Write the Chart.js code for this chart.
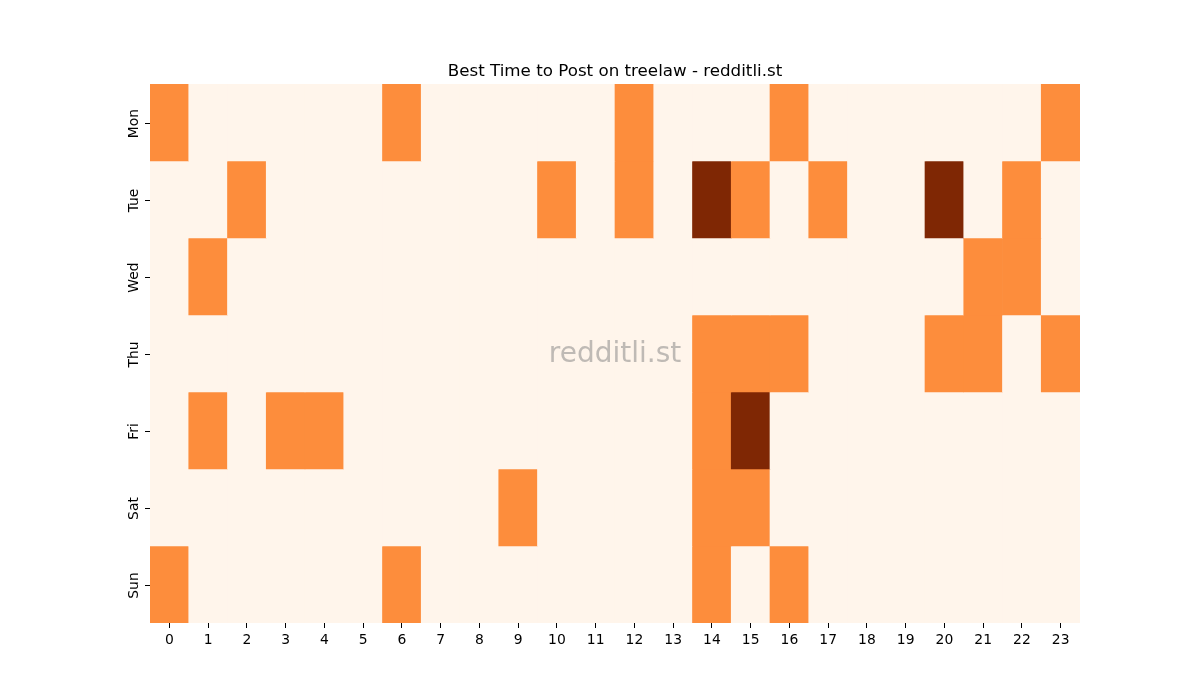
<!DOCTYPE html>
<html lang="en">
<head>
    <meta charset="UTF-8">
    <title>Best Time to Post on treelaw</title>
    <script src="https://cdn.jsdelivr.net/npm/chart.js"></script>
    <style>
        body { margin: 0; background: #ffffff; }
        #wrap { width: 1200px; height: 700px; }
    </style>
</head>
<body>
    <div id="wrap"><canvas id="heat"></canvas></div>
    <script>
        // hours along the bottom, days down the side
        const hours = ['0','1','2','3','4','5','6','7','8','9','10','11','12','13','14','15','16','17','18','19','20','21','22','23'];
        const days = ['Mon', 'Tue', 'Wed', 'Thu', 'Fri', 'Sat', 'Sun'];

        // one row per day, 24 hourly values (0 / 1 / 2)
        const mon = [1,0,0,0,0,0,1,0,0,0,0,0,1,0,0,0,1,0,0,0,0,0,0,1];
        const tue = [0,0,1,0,0,0,0,0,0,0,1,0,1,0,2,1,0,1,0,0,2,0,1,0];
        const wed = [0,1,0,0,0,0,0,0,0,0,0,0,0,0,0,0,0,0,0,0,0,1,1,0];
        const thu = [0,0,0,0,0,0,0,0,0,0,0,0,0,0,1,1,1,0,0,0,1,1,0,1];
        const fri = [0,1,0,1,1,0,0,0,0,0,0,0,0,0,1,2,0,0,0,0,0,0,0,0];
        const sat = [0,0,0,0,0,0,0,0,0,1,0,0,0,0,1,1,0,0,0,0,0,0,0,0];
        const sun = [1,0,0,0,0,0,1,0,0,0,0,0,0,0,1,0,1,0,0,0,0,0,0,0];
        const rows = [mon, tue, wed, thu, fri, sat, sun];

        const palette = ['#fff5eb', '#fd8d3c', '#7f2704'];

        const datasets = rows.map((row, d) => ({
            label: days[d],
            data: row.map(() => [d - 0.5, d + 0.5]),
            backgroundColor: row.map(v => palette[v]),
            borderWidth: 0,
            barPercentage: 1,
            categoryPercentage: 1,
            grouped: false
        }));

        // title, rotated day labels with their ticks, and the watermark
        const extras = {
            id: 'extras',
            afterDatasetsDraw(chart) {
                const { ctx, chartArea } = chart;
                const yScale = chart.scales.y;
                const cx = (chartArea.left + chartArea.right) / 2;
                ctx.save();

                ctx.font = '28px "DejaVu Sans"';
                ctx.fillStyle = 'rgba(128,128,128,0.5)';
                ctx.textAlign = 'center';
                ctx.textBaseline = 'middle';
                ctx.fillText('redditli.st', cx, (chartArea.top + chartArea.bottom) / 2 + 1);

                ctx.font = '16.7px "DejaVu Sans"';
                ctx.fillStyle = '#000000';
                ctx.textBaseline = 'alphabetic';
                ctx.fillText('Best Time to Post on treelaw - redditli.st', cx, chartArea.top - 8);

                ctx.font = '13.9px "DejaVu Sans"';
                ctx.strokeStyle = '#000000';
                ctx.lineWidth = 1;
                days.forEach((d, i) => {
                    const y = Math.round(yScale.getPixelForValue(i)) + 0.5;
                    ctx.beginPath();
                    ctx.moveTo(chartArea.left - 5, y);
                    ctx.lineTo(chartArea.left, y);
                    ctx.stroke();
                    ctx.save();
                    ctx.translate(chartArea.left - 9, y);
                    ctx.rotate(-Math.PI / 2);
                    ctx.textAlign = 'center';
                    ctx.textBaseline = 'bottom';
                    ctx.fillText(d, 0, 0);
                    ctx.restore();
                });
                ctx.restore();
            }
        };

        Chart.defaults.font.family = '"DejaVu Sans", sans-serif';
        Chart.defaults.color = '#000000';

        new Chart(document.getElementById('heat'), {
            type: 'bar',
            data: { labels: hours, datasets: datasets },
            plugins: [extras],
            options: {
                responsive: true,
                maintainAspectRatio: false,
                animation: false,
                layout: { padding: { left: 0, right: 120, top: 84, bottom: 0 } },
                plugins: {
                    legend: { display: false },
                    tooltip: { enabled: false },
                    title: { display: false }
                },
                scales: {
                    x: {
                        type: 'category',
                        offset: true,
                        border: { display: false },
                        grid: { offset: false, drawOnChartArea: false, drawTicks: true, tickLength: 5, color: '#000000' },
                        ticks: { font: { size: 13.9 }, padding: 4, maxRotation: 0, autoSkip: false },
                        afterFit(scale) { scale.height = 77; }
                    },
                    y: {
                        type: 'linear',
                        min: -0.5,
                        max: 6.5,
                        reverse: true,
                        border: { display: false },
                        grid: { display: false },
                        afterBuildTicks(scale) { scale.ticks = days.map((d, i) => ({ value: i })); },
                        ticks: { display: false },
                        afterFit(scale) { scale.width = 150; }
                    }
                }
            }
        });
    </script>
</body>
</html>
